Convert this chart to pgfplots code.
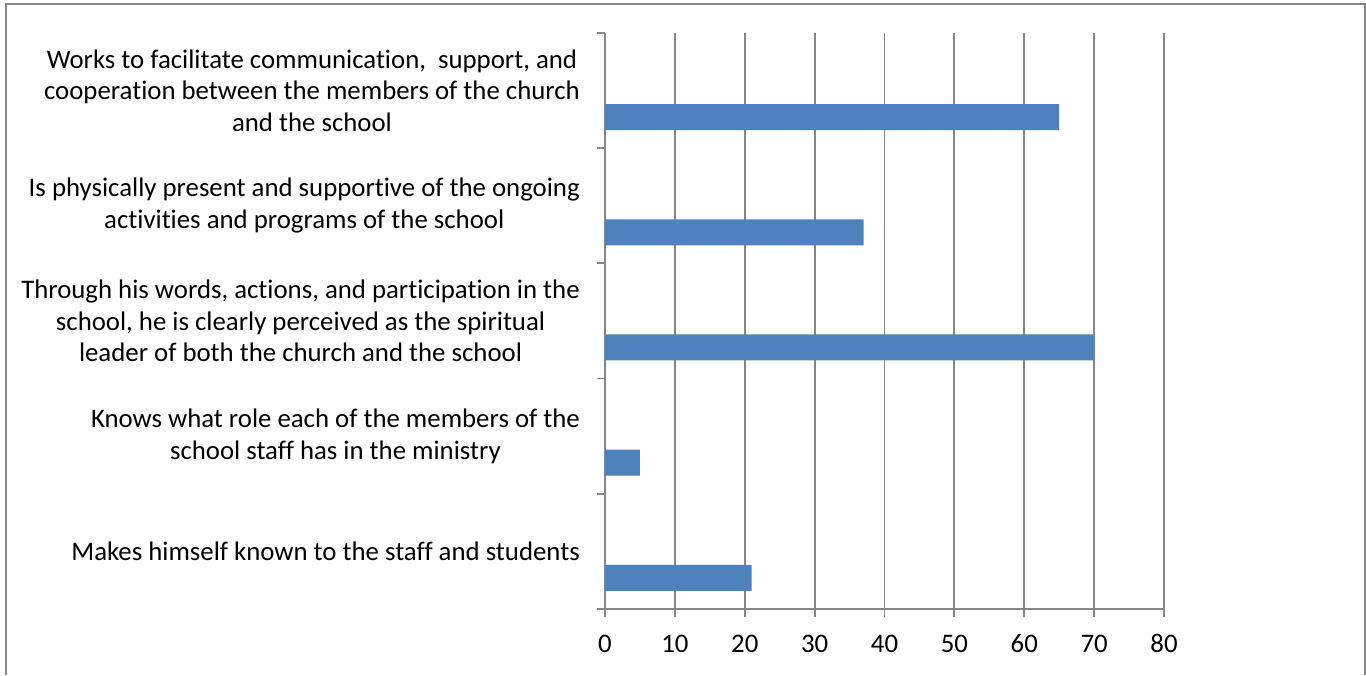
\documentclass[border=0pt]{standalone}
\usepackage{pgfplots}
\pgfplotsset{compat=1.18}
\usepackage{fontspec}
\setmainfont[Ligatures={NoCommon,NoContextual,NoRare},RawFeature={-calt}]{Carlito}
\definecolor{barblue}{HTML}{4F81BD}
\definecolor{gridgray}{HTML}{868686}
\begin{document}
\begin{tikzpicture}[x=1pt,y=1pt]
\useasboundingbox (0,0) rectangle (1366,675);
\draw[gridgray, line width=2pt] (5.5,0) -- (5.5,670.5) -- (1365,670.5) -- (1365,0);
\begin{axis}[
    scale only axis,
    at={(605pt,66pt)}, anchor=south west,
    width=559pt, height=576pt,
    xbar, bar width=26pt, bar shift=-26.5pt,
    xmin=0, xmax=80,
    ymin=-0.5, ymax=4.5,
    xtick={0,10,...,80},
    ytick={0,1,2,3,4},
    minor ytick={-0.5,0.5,1.5,2.5,3.5,4.5},
    yticklabels={
        {Makes himself known to the staff and students},
        {Knows what role each of the members of the\\school staff has in the ministry},
        {Through his words, actions, and participation in the\\school, he is clearly perceived as the spiritual\\leader of both the church and the school},
        {Is physically present and supportive of the ongoing\\activities and programs of the school},
        {Works to facilitate communication,~ support, and\\cooperation between the members of the church\\and the school}
    },
    font=\fontsize{26.8}{31.7}\selectfont,
    /pgf/number format/assume math mode=true,
    axis x line*=bottom, axis y line*=left,
    axis line style={gridgray, line width=1.8pt},
    x axis line style={-}, y axis line style={-},
    xmajorgrids, major grid style={gridgray, line width=1.8pt},
    tick style={gridgray, line width=1.8pt},
    major tick length=8pt, minor tick length=8pt,
    xtick align=outside,
    ytick align=outside,
    every major y tick/.append style={draw=none},
    every minor y tick/.append style={draw=gridgray, line width=1.8pt},
    xticklabel style={anchor=base, yshift=-35pt, inner sep=0pt},
    yticklabel style={anchor=east, align=center, inner sep=0pt, xshift=-17pt},
    clip=false,
]
\addplot[fill=barblue, draw=none] coordinates {
    (21,0)
    (5,1)
    (70,2)
    (37,3)
    (65,4)
};
\end{axis}
\end{tikzpicture}
\end{document}
